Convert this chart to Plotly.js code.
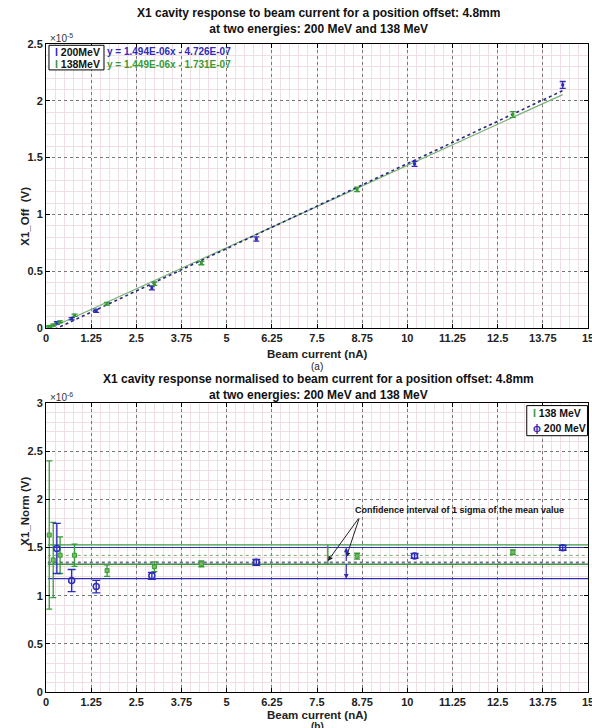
<!DOCTYPE html>
<html>
<head>
<meta charset="utf-8">
<script src="https://cdn.plot.ly/plotly-3.0.1.min.js"></script>
<style>html,body{margin:0;padding:0;background:#fff;}#chart{width:592px;height:728px;}</style>
</head>
<body>
<div id="chart"></div>
<script>
// ---------- data (top plot values in units of 1e-5 V, bottom in 1e-6 V) ----------
const x200 = [0.30, 0.71, 1.39, 2.93, 5.82, 10.2, 14.3];
const off200 = [0.045, 0.082, 0.152, 0.353, 0.783, 1.445, 2.14];
const offErr200 = [0.010, 0.010, 0.014, 0.017, 0.019, 0.022, 0.030];
const x138 = [0.09, 0.20, 0.39, 0.79, 1.69, 3.0, 4.3, 8.61, 12.92];
const off138 = [0.015, 0.027, 0.055, 0.112, 0.213, 0.39, 0.572, 1.22, 1.88];
const offErr138 = [0.006, 0.007, 0.008, 0.010, 0.012, 0.015, 0.015, 0.020, 0.025];

const norm200 = [1.49, 1.157, 1.094, 1.206, 1.346, 1.413, 1.497];
const normErr200 = [0.26, 0.115, 0.065, 0.035, 0.030, 0.025, 0.025];
const norm138 = [1.63, 1.37, 1.42, 1.42, 1.26, 1.30, 1.33, 1.41, 1.45];
const normErr138 = [0.77, 0.39, 0.19, 0.115, 0.06, 0.05, 0.03, 0.03, 0.025];

const fitSlope = [1.494e-6, 1.449e-6];      // 200 MeV, 138 MeV
const fitIntercept = [-4.726e-7, -1.731e-7];
const fitRange = [0.09, 14.3];

const mean200 = 1.345, ci200 = [1.176, 1.500];
const mean138 = 1.418, ci138 = [1.326, 1.527];
const xSpan = [0.05, 15];
const xTickVals = [0,1.25,2.5,3.75,5,6.25,7.5,8.75,10,11.25,12.5,13.75,15];

const BLUE = 'rgb(45,45,185)';
const GREEN = 'rgb(55,155,55)';
const F = 'Liberation Sans, Arial, sans-serif';

function fitLine(i, scale){
  return fitRange.map(x => (fitSlope[i]*x + fitIntercept[i]) / scale);
}

const traces = [
  // ---- top: fit lines
  {x: fitRange, y: fitLine(1, 1e-5), mode:'lines', xaxis:'x', yaxis:'y',
   line:{color:'rgb(120,180,120)', width:1.2}, hoverinfo:'skip', showlegend:false},
  {x: fitRange, y: fitLine(0, 1e-5), mode:'lines', xaxis:'x', yaxis:'y',
   line:{color:'rgb(40,40,130)', width:1.6, dash:'dot'}, hoverinfo:'skip', showlegend:false},
  // ---- top: points
  {x: x200, y: off200, mode:'markers', xaxis:'x', yaxis:'y', showlegend:false,
   marker:{color:BLUE, size:3, symbol:'square'},
   error_y:{type:'data', array: offErr200, visible:true, color:BLUE, thickness:1.3, width:3}},
  {x: x138, y: off138, mode:'markers', xaxis:'x', yaxis:'y', showlegend:false,
   marker:{color:GREEN, size:3, symbol:'square'},
   error_y:{type:'data', array: offErr138, visible:true, color:GREEN, thickness:1.3, width:3}},

  // ---- bottom: mean and confidence lines
  {x: xSpan, y: [ci138[0], ci138[0]], mode:'lines', xaxis:'x2', yaxis:'y2', showlegend:false,
   line:{color:GREEN, width:1.3}, hoverinfo:'skip'},
  {x: xSpan, y: [ci138[1], ci138[1]], mode:'lines', xaxis:'x2', yaxis:'y2', showlegend:false,
   line:{color:GREEN, width:1.3}, hoverinfo:'skip'},
  {x: xSpan, y: [mean138, mean138], mode:'lines', xaxis:'x2', yaxis:'y2', showlegend:false,
   line:{color:'rgb(110,175,110)', width:1, dash:'dot'}, hoverinfo:'skip'},
  {x: xSpan, y: [ci200[0], ci200[0]], mode:'lines', xaxis:'x2', yaxis:'y2', showlegend:false,
   line:{color:BLUE, width:1.2}, hoverinfo:'skip'},
  {x: xSpan, y: [ci200[1], ci200[1]], mode:'lines', xaxis:'x2', yaxis:'y2', showlegend:false,
   line:{color:BLUE, width:1.2}, hoverinfo:'skip'},
  {x: xSpan, y: [mean200, mean200], mode:'lines', xaxis:'x2', yaxis:'y2', showlegend:false,
   line:{color:'rgb(110,110,150)', width:2, dash:'dot'}, hoverinfo:'skip'},

  // ---- bottom: points
  {x: x138, y: norm138, mode:'markers', xaxis:'x2', yaxis:'y2', showlegend:false,
   marker:{color:'rgb(120,190,90)', size:4, symbol:'square', line:{color:GREEN, width:1}},
   error_y:{type:'data', array: normErr138, visible:true, color:GREEN, thickness:1.3, width:3}},
  {x: x200, y: norm200, mode:'markers', xaxis:'x2', yaxis:'y2', showlegend:false,
   marker:{color:BLUE, size:6, symbol:'circle-open', line:{color:BLUE, width:1.5}},
   error_y:{type:'data', array: normErr200, visible:true, color:BLUE, thickness:1.4, width:4}}
];

function xAxis(anchor){
  return {
    anchor: anchor, range:[0,15], tickvals: xTickVals, ticklabeloverflow:'allow',
    ticks:'inside', ticklen:4, tickcolor:'#000', showline:true, linecolor:'#000', linewidth:1,
    mirror:'ticks', zeroline:false,
    showgrid:true, gridcolor:'rgb(120,120,120)', griddash:'dot', gridwidth:1,
    minor:{dtick:0.25, tick0:0, showgrid:true, gridcolor:'rgb(242,222,226)', griddash:'solid', gridwidth:1, ticks:''},
    tickfont:{family:F, size:11, color:'#222', weight:'bold'}
  };
}
function yAxis(anchor, domain, range, dtick){
  return {
    anchor: anchor, domain: domain, range: range, dtick: dtick, tick0:0,
    ticks:'inside', ticklen:4, tickcolor:'#000', showline:true, linecolor:'#000', linewidth:1,
    mirror:'ticks', zeroline:false,
    showgrid:true, gridcolor:'rgb(120,120,120)', griddash:'dot', gridwidth:1,
    minor:{dtick:0.1, tick0:0, showgrid:true, gridcolor:'rgb(242,222,226)', griddash:'solid', gridwidth:1, ticks:''},
    tickfont:{family:F, size:11, color:'#222', weight:'bold'}
  };
}

const titleFont = {family:F, size:12, color:'#111', weight:'bold'};
const labFont = {family:F, size:11.5, color:'#222', weight:'bold'};

const annotations = [
  {xref:'paper', yref:'paper', x:0.502, y:1.035, yanchor:'middle', showarrow:false,
   text:'X1 cavity response to beam current for a position offset: 4.8mm<br>at two energies: 200 MeV and 138 MeV', font:titleFont},
  {xref:'paper', yref:'paper', x:0.502, y:0.471, yanchor:'middle', showarrow:false,
   text:'X1 cavity response normalised to beam current for a position offset: 4.8mm<br>at two energies: 200 MeV and 138 MeV', font:titleFont},
  {xref:'paper', yref:'paper', x:0.5, y:0.5216, yanchor:'middle', showarrow:false,
   text:'Beam current (nA)', font:labFont},
  {xref:'paper', yref:'paper', x:0.5, y:0.503, yanchor:'middle', showarrow:false,
   text:'(a)', font:{family:F, size:10, color:'#222'}},
  {xref:'paper', yref:'paper', x:0.5, y:-0.0355, yanchor:'middle', showarrow:false,
   text:'Beam current (nA)', font:labFont},
  {xref:'paper', yref:'paper', x:0.5, y:-0.054, yanchor:'middle', showarrow:false,
   text:'(b)', font:{family:F, size:10, color:'#222', weight:'bold'}},
  {xref:'paper', yref:'paper', x:-0.0535, y:0.782, textangle:-90, showarrow:false,
   text:'X1_Off  (V)', font:labFont},
  {xref:'paper', yref:'paper', x:-0.0535, y:0.222, textangle:-90, showarrow:false,
   text:'X1_Norm (V)', font:labFont},
  {xref:'paper', yref:'paper', x:0.004, y:1.009, xanchor:'left', yanchor:'middle', showarrow:false,
   text:'×10<sup>-5</sup>', font:{family:F, size:10, color:'#333'}},
  {xref:'paper', yref:'paper', x:0.004, y:0.455, xanchor:'left', yanchor:'middle', showarrow:false,
   text:'×10<sup>-6</sup>', font:{family:F, size:10, color:'#333'}},
  // top legend
  {xref:'paper', yref:'paper', x:0.012, y:0.988, xanchor:'left', yanchor:'middle', showarrow:false,
   text:'<span style="color:'+BLUE+'">I</span> 200MeV', font:{family:F, size:10.5, color:'#111', weight:'bold'}},
  {xref:'paper', yref:'paper', x:0.012, y:0.969, xanchor:'left', yanchor:'middle', showarrow:false,
   text:'<span style="color:'+GREEN+'">I</span> 138MeV', font:{family:F, size:10.5, color:'#111', weight:'bold'}},
  {xref:'paper', yref:'paper', x:0.109, y:0.988, xanchor:'left', yanchor:'middle', showarrow:false,
   text:'y = 1.494E-06x - 4.726E-07', font:{family:F, size:10, color:BLUE, weight:'bold'}},
  {xref:'paper', yref:'paper', x:0.109, y:0.969, xanchor:'left', yanchor:'middle', showarrow:false,
   text:'y = 1.449E-06x - 1.731E-07', font:{family:F, size:10, color:GREEN, weight:'bold'}},
  // bottom legend
  {xref:'paper', yref:'paper', x:0.895, y:0.4306, xanchor:'left', yanchor:'middle', showarrow:false,
   text:'<span style="color:'+GREEN+'">I</span> 138 MeV', font:{family:F, size:10.5, color:'#111', weight:'bold'}},
  {xref:'paper', yref:'paper', x:0.895, y:0.4074, xanchor:'left', yanchor:'middle', showarrow:false,
   text:'<span style="color:'+BLUE+'">ɸ</span> 200 MeV', font:{family:F, size:10.5, color:'#111', weight:'bold'}},
  // confidence annotation
  {xref:'x2', yref:'y2', x:11.45, y:1.89, showarrow:false,
   text:'Confidence interval of 1 sigma of the mean value', font:{family:F, size:9, color:'#111', weight:'bold'}},
  {xref:'x2', yref:'y2', x:7.8, y:1.36, axref:'x2', ayref:'y2', ax:8.68, ay:1.817,
   showarrow:true, arrowhead:2, arrowsize:1, arrowwidth:1, arrowcolor:'#222', text:''},
  {xref:'x2', yref:'y2', x:8.31, y:1.40, axref:'x2', ayref:'y2', ax:8.68, ay:1.817,
   showarrow:true, arrowhead:2, arrowsize:1, arrowwidth:1, arrowcolor:'#222', text:''},
  // blue double arrow
  {xref:'x2', yref:'y2', x:8.31, y:ci200[1], axref:'x2', ayref:'y2', ax:8.31, ay:mean200,
   showarrow:true, arrowhead:2, arrowsize:0.8, arrowwidth:1.2, arrowcolor:BLUE, text:''},
  {xref:'x2', yref:'y2', x:8.31, y:ci200[0], axref:'x2', ayref:'y2', ax:8.31, ay:mean200,
   showarrow:true, arrowhead:2, arrowsize:0.8, arrowwidth:1.2, arrowcolor:BLUE, text:''}
];

const shapes = [
  {type:'rect', xref:'paper', yref:'paper', x0:0.0055, x1:0.107, y0:0.960, y1:0.998,
   line:{color:'#000', width:1}, fillcolor:'rgba(255,255,255,1)', layer:'above'},
  {type:'rect', xref:'paper', yref:'paper', x0:0.887, x1:0.999, y0:0.3955, y1:0.442,
   line:{color:'#000', width:1}, fillcolor:'rgba(255,255,255,1)', layer:'above'},
  {type:'line', xref:'x2', yref:'y2', x0:7.8, x1:7.8, y0:ci138[0], y1:ci138[1],
   line:{color:GREEN, width:1.4}}
];

const layout = {
  width:592, height:728,
  margin:{l:46, r:4, t:44, b:36},
  paper_bgcolor:'#fff', plot_bgcolor:'#fff',
  showlegend:false,
  xaxis: xAxis('y'),
  yaxis: yAxis('x', [0.5617, 1], [0, 2.5], 0.5),
  xaxis2: xAxis('y2'),
  yaxis2: yAxis('x2', [0, 0.446], [0, 3], 0.5),
  annotations: annotations,
  shapes: shapes
};

Plotly.newPlot('chart', traces, layout, {displayModeBar:false, staticPlot:true});
</script>
</body>
</html>
